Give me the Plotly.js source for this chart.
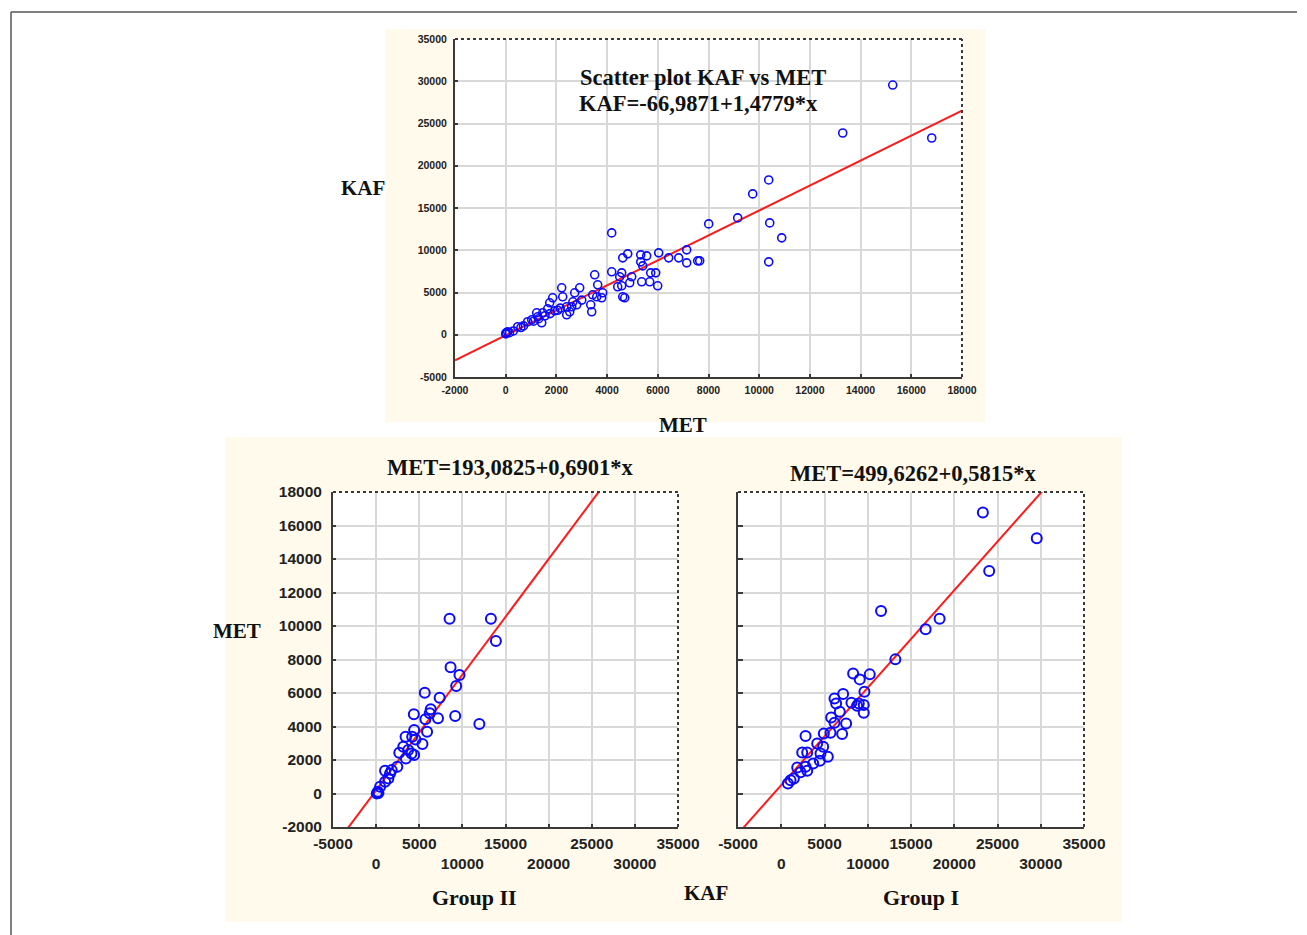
<!DOCTYPE html>
<html>
<head>
<meta charset="utf-8">
<script src="https://cdn.plot.ly/plotly-3.0.1.min.js"></script>
<style>html,body{margin:0;padding:0;background:#fff;}#chart{width:1307px;height:935px;}</style>
</head>
<body>
<div id="chart"></div>
<script>
// ---- Top panel: all subjects, x = MET, y = KAF ----
const metAll = [15267,13295,16806,10375,9744,9152,8008,10415,10888,10375,7653,4182,6036,6430,6825,7140,7140,7574,4616,4813,5326,5562,5326,5405,4182,4576,3511,5720,5918,4971,5365,5681,5996,4418,4892,3629,3432,3787,4695,20,79,473,868,1026,1262,1223,1460,1420,1657,1736,1854,1933,2209,2249,2406,2406,2604,2722,2919,2801,2525,3353,3393,3590,3827,4497,4576,4616,0,150,300,600,700,1100,1300,1550,1750,2050,2150,2650,3000];
const kafAll = [29550,23877,23285,18321,16666,13829,13120,13238,11465,8629,8747,12056,9692,9101,9101,10047,8510,8747,9101,9574,9456,9338,8629,8156,7447,7328,7092,7328,7328,6856,6265,6265,5792,5674,6146,5910,4728,4373,4373,236,355,946,1537,1773,2128,2600,2600,1418,3073,3782,4373,2837,5555,4492,3310,2364,3310,4964,5555,3546,2719,3546,2719,4492,4964,6856,5792,4492,100,250,450,850,1050,1600,1900,2250,2500,2900,3150,3900,4100];
const fitTop = [-66.9871, 1.4779];

// ---- Group II: x = KAF, y = MET ----
const kafII = [8516,13310,13886,8631,9666,9283,5639,7365,6329,6214,7173,9168,5715,11968,4373,4411,5907,3414,4181,4565,5370,3145,3721,2685,4104,4411,3452,2455,1036,1611,1419,1036,460,192,77,268,1803];
const metII = [10427,10427,9111,7536,7077,6419,6021,5722,5024,4785,4486,4625,4426,4147,4725,3788,3688,3389,3389,3230,2951,2791,2592,2432,2392,2293,2093,1595,1356,1196,897,698,399,100,0,30,1396];
const fitII = [193.0825, 0.6901];

// ---- Group I: x = KAF, y = MET ----
const kafI = [23308,29538,24038,11538,18308,16692,13192,8308,10231,9077,9615,7154,6154,6346,8115,8962,9538,8769,6769,9538,5769,6154,7500,7038,2808,4923,5692,4154,4846,2423,3000,4538,5385,4462,3692,1846,2808,2231,3000,1462,769,1077];
const metI = [16773,15239,13287,10896,10438,9801,8008,7171,7112,6813,6076,5936,5677,5378,5418,5378,5279,5239,4880,4821,4542,4223,4183,3546,3426,3586,3625,2988,2789,2450,2450,2390,2191,1952,1793,1554,1594,1275,1355,896,598,797];
const fitI = [499.6262, 0.5815];

// tick labels
const topXTicks = [-2000,0,2000,4000,6000,8000,10000,12000,14000,16000,18000];
const topYTicks = [-5000,0,5000,10000,15000,20000,25000,30000,35000];
const botXTicks = [-5000,0,5000,10000,15000,20000,25000,30000,35000];
const botXText = ["-5000","<br>0","5000","<br>10000","15000","<br>20000","25000","<br>30000","35000"];
const botYTicks = [-2000,0,2000,4000,6000,8000,10000,12000,14000,16000,18000];

const W = 1307, H = 935;
const px = v => v / W, py = v => 1 - v / H;

const blue = '#0a0aff', red = '#ff1a1a', grid = '#d8d8d8', frame = '#3a3a3a';
const serif = 'Liberation Serif, Times New Roman, serif';
const sans = 'Liberation Sans, Arial, sans-serif';

function fitLine(c, x0, x1) { return { x: [x0, x1], y: [c[0] + c[1]*x0, c[0] + c[1]*x1] }; }

const lt = fitLine(fitTop, -2000, 18000);
const l2 = fitLine(fitII, -5000, 35000);
const l1 = fitLine(fitI, -5000, 35000);

const traces = [
  {x: lt.x, y: lt.y, xaxis:'x', yaxis:'y', mode:'lines', line:{color:red, width:2}, hoverinfo:'skip'},
  {x: metAll, y: kafAll, xaxis:'x', yaxis:'y', mode:'markers', marker:{symbol:'circle-open', size:8, color:blue, line:{width:1.6, color:blue}}},
  {x: l2.x, y: l2.y, xaxis:'x2', yaxis:'y2', mode:'lines', line:{color:red, width:2}, hoverinfo:'skip'},
  {x: kafII, y: metII, xaxis:'x2', yaxis:'y2', mode:'markers', marker:{symbol:'circle-open', size:10, color:blue, line:{width:2, color:blue}}},
  {x: l1.x, y: l1.y, xaxis:'x3', yaxis:'y3', mode:'lines', line:{color:red, width:2}, hoverinfo:'skip'},
  {x: kafI, y: metI, xaxis:'x3', yaxis:'y3', mode:'markers', marker:{symbol:'circle-open', size:10, color:blue, line:{width:2, color:blue}}}
];

const topDomX = [px(455), px(962)], topDomY = [py(377), py(39)];
const blDomX = [px(333), px(678)], brDomX = [px(738), px(1084)], bDomY = [py(827), py(492)];

function ax(extra) {
  return Object.assign({
    showgrid: true, gridcolor: grid, gridwidth: 2, zeroline: false,
    showline: true, linecolor: frame, linewidth: 2,
    ticks: 'inside', ticklen: 3, tickcolor: frame, tickwidth: 2,
    tickmode: 'array', tickangle: 0, fixedrange: true
  }, extra);
}

const tfTop = {family: sans, size: 10.5, color: '#222', weight: 'bold'};
const tfBot = {family: sans, size: 15.5, color: '#222', weight: 'bold'};

function label(text, x, y, size) {
  return {text: text, x: px(x), y: py(y), xref:'paper', yref:'paper', xanchor:'center', yanchor:'middle',
    showarrow:false, font:{family:serif, size:size, color:'#111', weight:'bold'}};
}

const layout = {
  width: W, height: H,
  margin: {l:0, r:0, t:0, b:0},
  paper_bgcolor: '#ffffff', plot_bgcolor: '#ffffff',
  showlegend: false,
  xaxis: ax({domain: topDomX, anchor:'y', range:[-2000,18000], tickvals: topXTicks, ticktext: topXTicks.map(String), tickfont: tfTop, ticklabelstandoff: 2}),
  yaxis: ax({domain: topDomY, anchor:'x', range:[-5000,35000], tickvals: topYTicks, ticktext: topYTicks.map(String), tickfont: tfTop, ticklabelstandoff: 4}),
  xaxis2: ax({domain: blDomX, anchor:'y2', range:[-5000,35000], tickvals: botXTicks, ticktext: botXText, tickfont: tfBot, ticklabelstandoff: 1}),
  yaxis2: ax({domain: bDomY, anchor:'x2', range:[-2000,18000], tickvals: botYTicks, ticktext: botYTicks.map(String), tickfont: tfBot, ticklabelstandoff: 6}),
  xaxis3: ax({domain: brDomX, anchor:'y3', range:[-5000,35000], tickvals: botXTicks, ticktext: botXText, tickfont: tfBot, ticklabelstandoff: 1}),
  yaxis3: ax({domain: bDomY, anchor:'x3', range:[-2000,18000], tickvals: botYTicks, showticklabels:false, ticklen: 5}),
  shapes: [
    {type:'line', xref:'paper', yref:'paper', x0:px(11), x1:px(1297), y0:py(12), y1:py(12), line:{color:'#555', width:1.5}, layer:'below'},
    {type:'line', xref:'paper', yref:'paper', x0:px(11), x1:px(11), y0:py(12), y1:0, line:{color:'#555', width:1.5}, layer:'below'},
    {type:'rect', xref:'paper', yref:'paper', x0:px(385), x1:px(985), y0:py(422), y1:py(29), fillcolor:'#fffaec', line:{width:0}, layer:'below'},
    {type:'rect', xref:'paper', yref:'paper', x0:px(225), x1:px(1122), y0:py(922), y1:py(437), fillcolor:'#fffaec', line:{width:0}, layer:'below'},
    {type:'rect', xref:'paper', yref:'paper', x0:topDomX[0], x1:topDomX[1], y0:topDomY[0], y1:topDomY[1], fillcolor:'#ffffff', line:{width:0}, layer:'below'},
    {type:'rect', xref:'paper', yref:'paper', x0:blDomX[0], x1:blDomX[1], y0:bDomY[0], y1:bDomY[1], fillcolor:'#ffffff', line:{width:0}, layer:'below'},
    {type:'rect', xref:'paper', yref:'paper', x0:brDomX[0], x1:brDomX[1], y0:bDomY[0], y1:bDomY[1], fillcolor:'#ffffff', line:{width:0}, layer:'below'},
    {type:'line', xref:'paper', yref:'paper', x0:topDomX[0], x1:topDomX[1], y0:topDomY[1], y1:topDomY[1], line:{color:frame, width:2, dash:'dot'}},
    {type:'line', xref:'paper', yref:'paper', x0:topDomX[1], x1:topDomX[1], y0:topDomY[0], y1:topDomY[1], line:{color:frame, width:2, dash:'dot'}},
    {type:'line', xref:'paper', yref:'paper', x0:blDomX[0], x1:blDomX[1], y0:bDomY[1], y1:bDomY[1], line:{color:frame, width:2, dash:'dot'}},
    {type:'line', xref:'paper', yref:'paper', x0:blDomX[1], x1:blDomX[1], y0:bDomY[0], y1:bDomY[1], line:{color:frame, width:2, dash:'dot'}},
    {type:'line', xref:'paper', yref:'paper', x0:brDomX[0], x1:brDomX[1], y0:bDomY[1], y1:bDomY[1], line:{color:frame, width:2, dash:'dot'}},
    {type:'line', xref:'paper', yref:'paper', x0:brDomX[1], x1:brDomX[1], y0:bDomY[0], y1:bDomY[1], line:{color:frame, width:2, dash:'dot'}}
  ],
  annotations: [
    label('Scatter plot KAF vs MET', 703, 77, 22.5),
    label('KAF=-66,9871+1,4779*x', 699, 104, 22.5),
    label('KAF', 363, 188, 21),
    label('MET', 683, 425, 21),
    label('MET=193,0825+0,6901*x', 510, 467, 22.5),
    label('MET=499,6262+0,5815*x', 913, 473, 22.5),
    label('MET', 237, 631, 21),
    label('Group II', 474, 897, 22),
    label('KAF', 706, 893, 21),
    label('Group I', 921, 897, 22)
  ]
};

Plotly.newPlot('chart', traces, layout, {staticPlot: true, displayModeBar: false});
</script>
</body>
</html>
